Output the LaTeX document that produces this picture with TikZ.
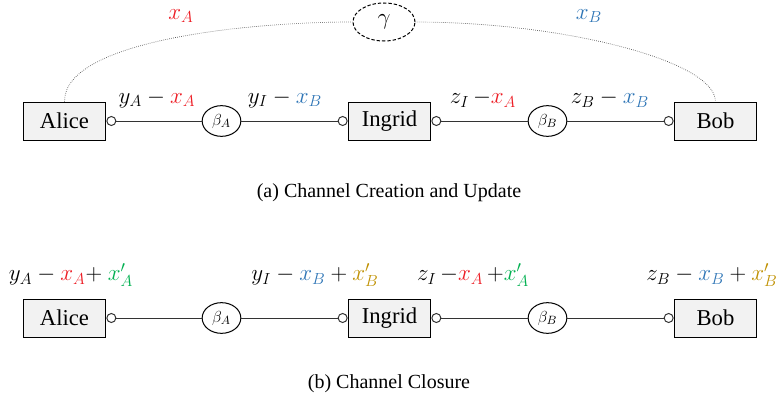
\documentclass[tikz,border=0pt]{standalone}
\usepackage{fontspec}
\setmainfont{Liberation Serif}
\usetikzlibrary{arrows.meta,positioning,shapes.geometric}

\definecolor{xa}{RGB}{237,28,36}
\definecolor{xb}{RGB}{46,117,182}
\definecolor{xap}{RGB}{0,176,80}
\definecolor{xbp}{RGB}{191,144,0}
\definecolor{boxfill}{RGB}{242,242,242}

\tikzset{every picture/.style={line width=0.75pt}}
\tikzset{
	party/.style={draw, fill=boxfill, minimum width=62pt, minimum height=28.5pt, inner sep=0pt, font=\fontsize{17}{20}\selectfont},
	chan/.style={draw, ellipse, minimum width=29pt, minimum height=23pt, inner sep=0pt, font=\fontsize{12.5}{14}\selectfont},
	lbl/.style={font=\fontsize{17}{20}\selectfont},
	captext/.style={font=\fontsize{15}{18}\selectfont},
	link/.style={draw=black!80, line width=0.6pt},
	plug/.tip={Circle[open, length=7.5pt, width=7.5pt, line width=0.75pt]}
}

\begin{document}
\begin{tikzpicture}[x=0.75pt,y=0.75pt,yscale=-1,xscale=1]
	\useasboundingbox (0,0) rectangle (779,407);

	% (a) Channel Creation and Update
	\node[party] (alice) at (64.5,121) {Alice};
	\node[party] (ingrid) at (389.5,121) {Ingrid};
	\node[party] (bob) at (715.5,121) {Bob};
	\node[chan] (betaA) at (221.5,121) {$\beta_A$};
	\node[chan] (betaB) at (547.5,121) {$\beta_B$};
	\node[draw, ellipse, dash pattern=on 2.5pt off 1.5pt, minimum width=46.5pt, minimum height=28.5pt, inner sep=0pt, lbl] (gamma) at (384,22) {$\gamma$};

	\draw[link, {plug}-] (alice.east) -- (betaA);
	\draw[link, -{plug}] (betaA) -- (ingrid.west);
	\draw[link, {plug}-] (ingrid.east) -- (betaB);
	\draw[link, -{plug}] (betaB) -- (bob.west);

	% funding curve
	\draw[densely dotted, black!70, line width=0.5pt] (alice.north) .. controls (64,40) and (250,22) .. (gamma.west);
	\draw[densely dotted, black!70, line width=0.5pt] (gamma.east) .. controls (560,22) and (715,60) .. (bob.north);

	\node[lbl, text=xa] (fa) at (181,16) {$x_A$};
	\node[lbl, text=xb] (fb) at (589,16) {$x_B$};
	\node[lbl] (la1) at (157,99) {$y_A - {\color{xa}x_A}$};
	\node[lbl] (la2) at (285,99) {$y_I - {\color{xb}x_B}$};
	\node[lbl] (la3) at (483,99) {$z_I\,{-}{\color{xa}x_A}$};
	\node[lbl] (la4) at (610,99) {$z_B - {\color{xb}x_B}$};

	\node[captext] (capa) at (389,193) {(a) Channel Creation and Update};

	% (b) Channel Closure
	\node[party] (alice2) at (64.5,318) {Alice};
	\node[party] (ingrid2) at (389.5,318) {Ingrid};
	\node[party] (bob2) at (715.5,318) {Bob};
	\node[chan] (betaA2) at (221.5,318) {$\beta_A$};
	\node[chan] (betaB2) at (547.5,318) {$\beta_B$};

	\draw[link, {plug}-] (alice2.east) -- (betaA2);
	\draw[link, -{plug}] (betaA2) -- (ingrid2.west);
	\draw[link, {plug}-] (ingrid2.east) -- (betaB2);
	\draw[link, -{plug}] (betaB2) -- (bob2.west);

	\node[lbl] (lb1) at (71,275) {$y_A - {\color{xa}x_A}{+}\ {\color{xap}x'_A}$};
	\node[lbl] (lb2) at (315,275) {$y_I - {\color{xb}x_B} + {\color{xbp}x'_B}$};
	\node[lbl] (lb3) at (473,275) {$z_I\,{-}{\color{xa}x_A}\,{+}{\color{xap}x'_A}$};
	\node[lbl] (lb4) at (712,275) {$z_B - {\color{xb}x_B} + {\color{xbp}x'_B}$};

	\node[captext] (capb) at (389,384) {(b) Channel Closure};
\end{tikzpicture}
\end{document}
